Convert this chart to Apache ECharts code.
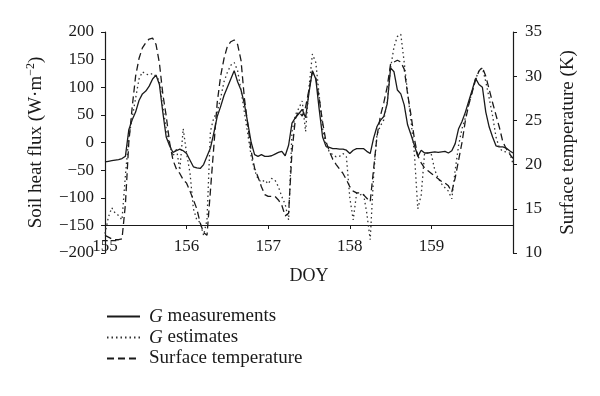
<!DOCTYPE html>
<html>
<head>
<meta charset="utf-8">
<script src="https://cdn.jsdelivr.net/npm/echarts@6/dist/echarts.min.js"></script>
<style>
  html, body { margin: 0; background: #fff; }
  #chart { width: 600px; height: 396px; }
</style>
</head>
<body>
<div id="chart"></div>
<script>
// hourly samples, DOY 155.0 to 160.0
const gMeasured = [
  -35, -34, -33, -32, -31, -29, -25, 23, 41, 55, 76, 88, 93, 102, 115, 122, 105, 55, 10, -6, -18, -15, -12, -15,
  -20, -32, -44, -46, -47, -40, -25, -10, 17, 47, 65, 85, 100, 115, 130, 110, 95, 70, 35, 0, -22, -25, -22, -25,
  -25, -24, -21, -18, -16, -24, -5, 35, 45, 52, 60, 45, 90, 130, 115, 60, 10, -7, -9, -11, -11, -12, -12, -14,
  -20, -14, -11, -11, -11, -16, -20, 8, 29, 40, 47, 70, 135, 128, 95, 88, 68, 32, 14, -5, -25, -14, -19, -19,
  -18, -17, -18, -17, -16, -19, -15, -2, 25, 38, 55, 75, 95, 116, 105, 100, 55, 28, 10, -6, -8, -8, -10, -15,
  -19
];
const gEstimated = [
  -165, -135, -118, -128, -132, -140, -60, 10, 45, 80, 115, 128, 124, 122, 125, 120, 112, 65, 25, -5, -25, -10, -50, 25,
  -20, -55, -120, -140, -145, -168, -140, 20, 45, 55, 80, 110, 127, 140, 145, 130, 95, 55, 15, -25, -50, -66, -72, -68,
  -75, -65, -68, -80, -98, -112, -140, 20, 50, 62, 75, 20, 100, 160, 145, 85, 25, -5, -17, -22, -26, -25, -20, -26,
  -100, -140, -92, -95, -92, -128, -176, -60, 15, 30, 41, 72, 135, 173, 192, 196, 145, 90, 40, -20, -120, -95, -19, -19,
  -22, -50, -65, -75, -82, -88, -102, -50, -5, 25, 45, 70, 92, 115, 130, 135, 110, 80, 48, 10, -10, -16, -17, -19,
  -38
];
const surfaceTemp = [
  12.0, 11.8, 11.6, 11.5, 11.5, 11.6, 15.5, 22.5, 26.5, 30.0, 32.0, 33.2, 33.8, 34.2, 34.3, 33.6, 31.5, 28.0, 25.5, 22.5, 20.5, 19.5, 19.0, 18.3,
  17.9, 17.0, 16.0, 15.0, 13.4, 12.3, 12.0, 17.0, 22.0, 27.0, 30.0, 32.0, 33.4, 33.9, 34.1, 33.6, 31.8, 27.5, 24.5, 21.5, 19.6, 18.6, 17.5, 16.6,
  16.4, 16.4, 16.4, 16.0, 15.4, 14.2, 14.5, 21.5, 25.2, 26.0, 25.5, 26.5, 28.5, 30.5, 29.8, 27.5, 24.8, 22.6, 21.5, 20.6, 20.0, 19.5, 19.0, 18.3,
  17.5, 17.0, 16.8, 16.8, 16.6, 16.2, 15.8, 19.5, 23.2, 25.5, 27.0, 28.8, 31.4, 31.6, 31.8, 31.6, 30.8, 28.0, 25.6, 22.9, 21.0, 20.2, 19.6, 19.3,
  19.0, 18.7, 18.4, 18.1, 17.9, 17.6, 16.9, 18.5, 20.5, 22.5, 25.0, 26.8, 28.2, 29.6, 30.6, 31.0, 30.0, 28.5, 27.0, 25.6, 24.2, 22.6, 21.8, 21.2,
  20.7
];
const doyStart = 155;
const doyEnd = 160;
const doy = gMeasured.map((_, i) => doyStart + i / 24);

const serif = "'Liberation Serif', 'DejaVu Serif', serif";
const ink = "#1a1a1a";
const pairs = (values) => values.map((v, i) => [doy[i], v]);
const minus = (v) => (v < 0 ? "\u2212" + Math.abs(v) : String(v));

const chart = echarts.init(document.getElementById("chart"), null, { renderer: "canvas" });
chart.setOption({
  animation: false,
  textStyle: { fontFamily: serif, color: ink },
  grid: { left: 105, right: 87, top: 32, bottom: 143 },
  legend: {
    orient: "vertical",
    left: 101,
    top: 302,
    itemWidth: 33,
    itemHeight: 12,
    itemGap: 2,
    itemStyle: { opacity: 0 },
    textStyle: {
      fontFamily: serif, fontSize: 19, color: ink, padding: [0, 0, 0, 4],
      rich: { i: { fontFamily: serif, fontSize: 19, fontStyle: "italic", color: ink } },
    },
    formatter: (name) => name.startsWith("G ") ? "{i|G}" + name.slice(1) : name,
    data: ["G measurements", "G estimates", "Surface temperature"],
  },
  xAxis: {
    type: "value",
    min: doyStart,
    max: doyEnd,
    interval: 1,
    offset: -28,
    name: "DOY",
    nameLocation: "middle",
    nameGap: 42,
    nameTextStyle: { fontFamily: serif, fontSize: 18, color: ink },
    axisLine: { onZero: false, lineStyle: { color: ink, width: 1.2 } },
    axisTick: { show: true, length: 4, lineStyle: { color: ink } },
    axisLabel: {
      fontFamily: serif, fontSize: 17, color: ink, margin: 13,
      showMaxLabel: false,
    },
    splitLine: { show: false },
  },
  yAxis: [
    {
      type: "value",
      min: -200,
      max: 200,
      interval: 50,
      position: "left",
      name: "{a|Soil heat flux (W\u00b7m}{s|\u22122}{a|)}",
      nameLocation: "middle",
      nameRotate: 90,
      nameGap: 58,
      nameTextStyle: {
        rich: {
          a: { fontFamily: serif, fontSize: 19, color: ink, lineHeight: 22 },
          s: { fontFamily: serif, fontSize: 12, color: ink, verticalAlign: "top", lineHeight: 12 },
        },
      },
      axisLine: { show: true, lineStyle: { color: ink, width: 1.2 } },
      axisTick: { show: true, length: 4, lineStyle: { color: ink } },
      axisLabel: { fontFamily: serif, fontSize: 17, color: ink, margin: 11, formatter: minus },
      splitLine: { show: false },
    },
    {
      type: "value",
      min: 10,
      max: 35,
      interval: 5,
      position: "right",
      name: "Surface temperature (K)",
      nameLocation: "middle",
      nameRotate: 90,
      nameGap: 46,
      nameTextStyle: { fontFamily: serif, fontSize: 19, color: ink },
      axisLine: { show: true, lineStyle: { color: ink, width: 1.2 } },
      axisTick: { show: true, length: 4, lineStyle: { color: ink } },
      axisLabel: { fontFamily: serif, fontSize: 17, color: ink, margin: 12 },
      splitLine: { show: false },
    },
  ],
  series: [
    {
      name: "G measurements",
      type: "line",
      yAxisIndex: 0,
      symbol: "none",
      data: pairs(gMeasured),
      lineStyle: { color: ink, width: 1.3, type: "solid" },
      itemStyle: { color: ink },
    },
    {
      name: "G estimates",
      type: "line",
      yAxisIndex: 0,
      symbol: "none",
      data: pairs(gEstimated),
      lineStyle: { color: "#333", width: 1.3, type: [1.5, 3] },
      itemStyle: { color: "#333" },
    },
    {
      name: "Surface temperature",
      type: "line",
      yAxisIndex: 1,
      symbol: "none",
      data: pairs(surfaceTemp),
      lineStyle: { color: ink, width: 1.3, type: [7, 4] },
      itemStyle: { color: ink },
    },
  ],
});
</script>
</body>
</html>
